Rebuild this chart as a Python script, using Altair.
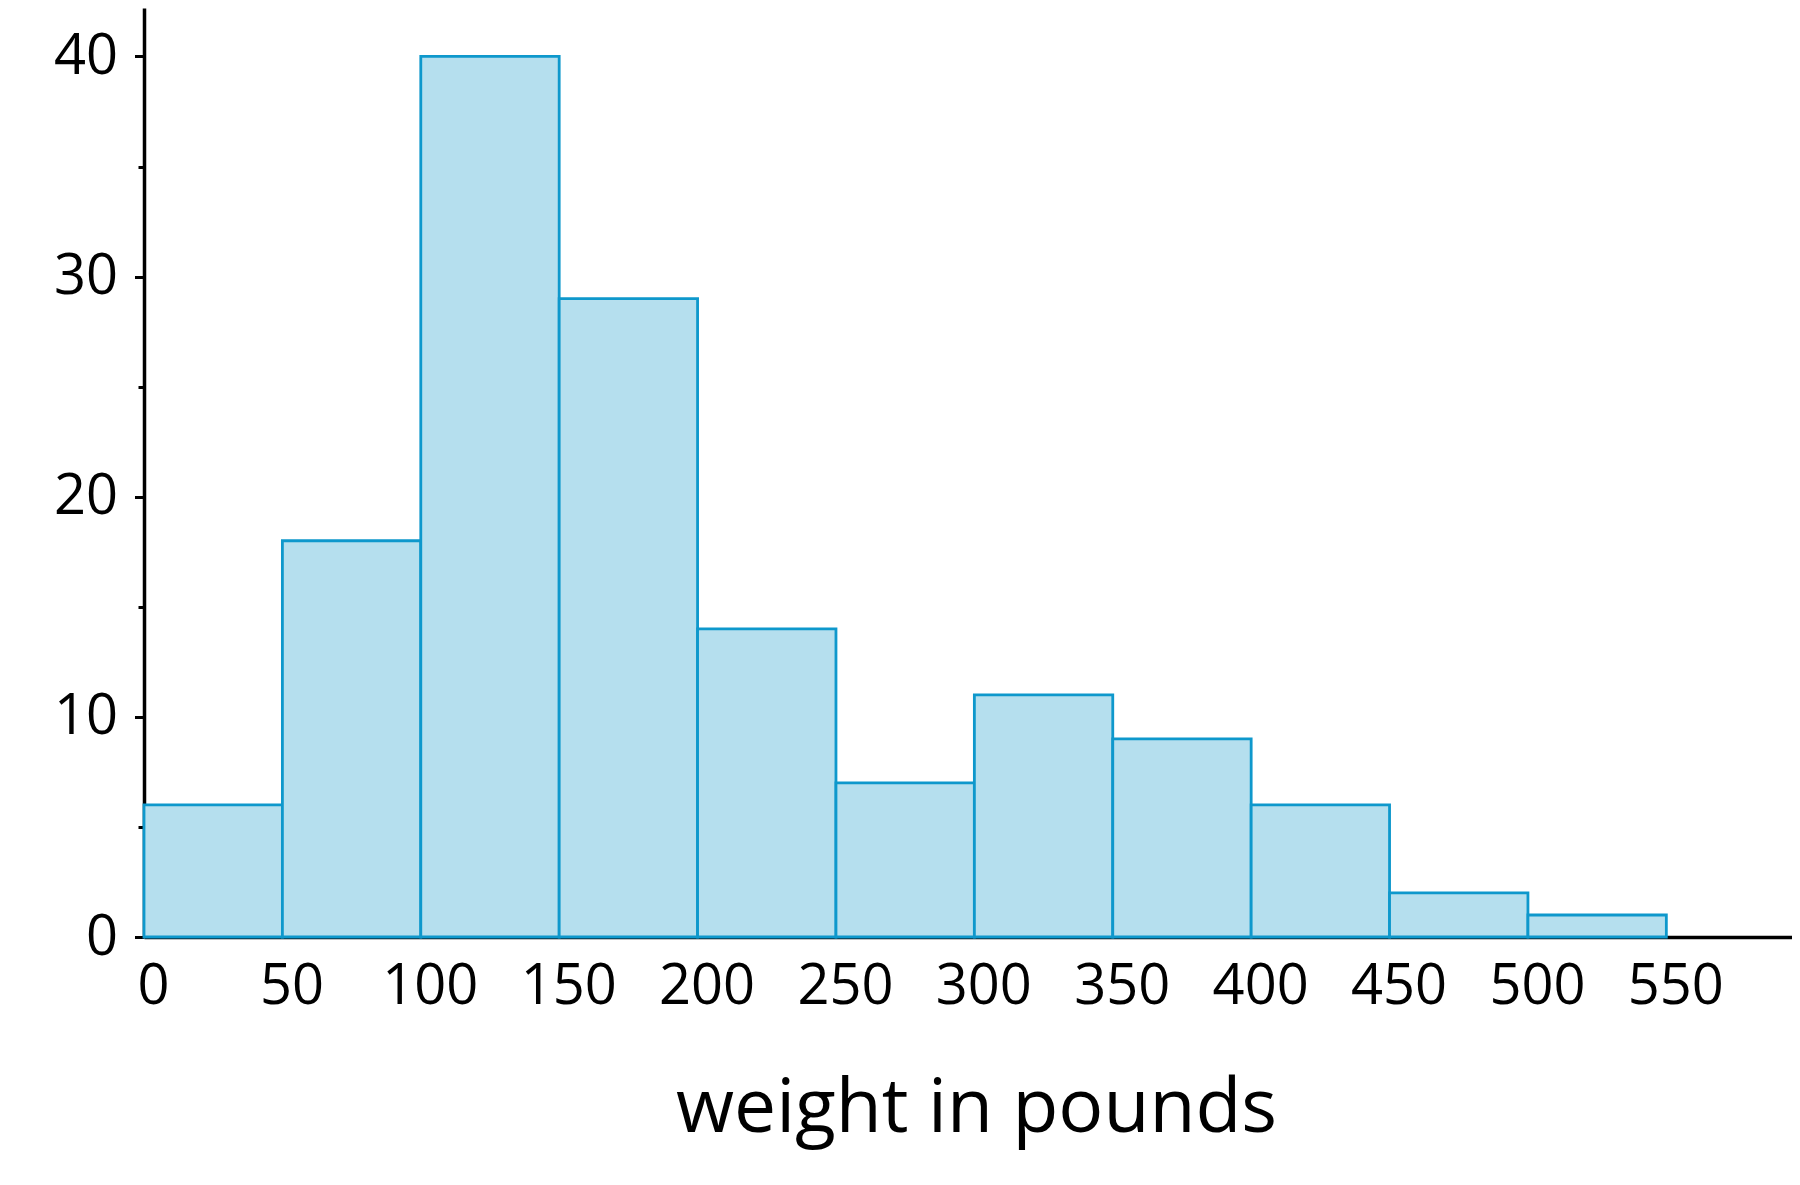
import altair as alt
import pandas as pd

bin_start = [0, 50, 100, 150, 200, 250, 300, 350, 400, 450, 500]
bin_end = [50, 100, 150, 200, 250, 300, 350, 400, 450, 500, 550]
counts = [6, 18, 40, 29, 14, 7, 11, 9, 6, 2, 1]
x_ticks = [0, 50, 100, 150, 200, 250, 300, 350, 400, 450, 500, 550]
y_ticks = [0, 5, 10, 15, 20, 25, 30, 35, 40]

df = pd.DataFrame({"start": bin_start, "end": bin_end, "count": counts})

FONT = "Open Sans"

chart = alt.Chart(df).mark_rect(
    fill="#b5dfee", stroke="#0e98cc", strokeWidth=2.8
).encode(
    x=alt.X("start:Q",
            scale=alt.Scale(domain=[0, 595.4], nice=False, zero=False),
            axis=alt.Axis(values=x_ticks, title="weight in pounds", grid=False,
                          ticks=False, tickSize=0, labelPadding=22,
                          labelOffset=9, labelFont=FONT, labelFontSize=56,
                          labelColor="black", labelFlush=False,
                          domainColor="black", domainWidth=3.5,
                          titleFont=FONT, titleFontSize=75, titleFontWeight="normal",
                          titleColor="black", titleBaseline="alphabetic",
                          titleX=832, titleY=194)),
    x2="end:Q",
    y=alt.Y("count:Q",
            scale=alt.Scale(domain=[0, 42.2], nice=False),
            axis=alt.Axis(values=y_ticks, title=None, grid=False,
                          tickSize={"condition": {"test": "datum.value % 10 === 0", "value": 9.5}, "value": 6},
                          tickWidth=3, tickColor="black",
                          labelExpr="datum.value % 10 === 0 ? datum.label : ''",
                          labelPadding=17, labelFont=FONT, labelFontSize=56,
                          labelColor="black", labelFlush=False,
                          domainColor="black", domainWidth=3.5)),
    y2=alt.datum(0),
).properties(
    width=1648, height=929,
    autosize=alt.AutoSizeParams(type="none"),
    padding={"left": 136, "top": 0, "right": 0, "bottom": 215},
).configure_view(stroke=None)

chart.save("out.html", embed_options={"renderer": "svg", "actions": False})
